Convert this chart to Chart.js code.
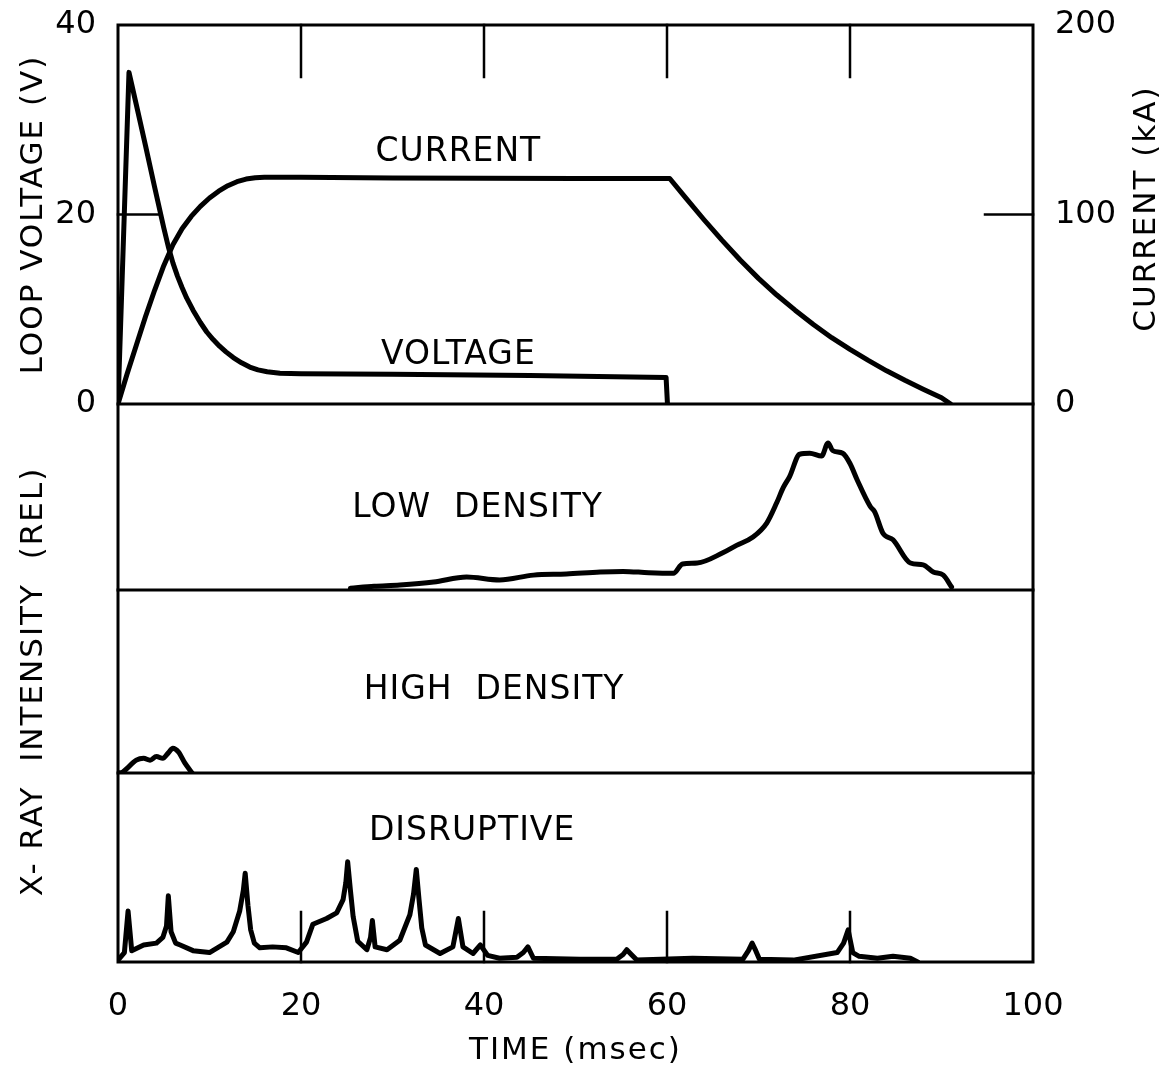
<!DOCTYPE html>
<html>
<head>
<meta charset="utf-8">
<script src="https://cdn.jsdelivr.net/npm/chart.js@4.4.1/dist/chart.umd.min.js"></script>
<style>
  html, body { margin: 0; padding: 0; background: #fff; }
</style>
</head>
<body>
<canvas id="shot" width="1172" height="1070"></canvas>
<script>
'use strict'

// time axis (msec)
const timeTicks = [0, 20, 40, 60, 80, 100];

// loop voltage (V)
const voltageTime = [0, 1.2, 2, 3, 4, 5, 5.5, 6, 6.5, 7, 7.5, 8.2, 9, 9.7, 10.4, 11.1, 11.8, 12.6, 13.5, 14.4,
    15.3, 16.3, 17.7, 20, 30, 45, 59.9, 60.05];
const voltageValues = [0, 35, 31.6, 27.3, 22.9, 18.6, 16.6, 14.9, 13.5, 12.3, 11.2, 9.9, 8.6, 7.6, 6.8, 6.1, 5.5, 4.9, 4.35, 3.9,
    3.6, 3.4, 3.25, 3.2, 3.15, 3.0, 2.8, 0];

// plasma current (kA)
const currentTime = [0, 1, 2, 3, 4, 5, 6, 7, 8, 9, 10, 11, 12, 13, 14, 15, 16, 20, 30, 40, 50, 60.3,
    62, 64, 66, 68, 70, 72, 74, 76, 78, 80, 82, 84, 86, 88, 90, 91];
const currentValues = [0, 16, 31, 46, 60, 73, 84, 92.5, 99, 104.3, 108.7, 112.3, 115.2, 117.3, 118.7, 119.4, 119.7, 119.6, 119.3, 119.1, 119, 119,
    109, 97.5, 86.5, 76, 66.3, 57.5, 49.5, 42, 35, 28.8, 23, 17.5, 12.5, 7.8, 3.3, 0];

// x-ray intensity, low density (rel)
const lowTime = [25.4, 28, 30.8, 34.5, 38.1, 41.7, 45.4, 49, 52.7, 55.2, 58, 60.7, 61.7, 63.3, 66.1, 67.6, 69.4, 70.9, 72,
    72.7, 73.4, 74.5, 75.6, 76.9, 77.6, 78.1, 79.2, 80, 80.8, 82.2, 82.7, 83.6, 84.7, 86.6, 88, 89.1, 90.2, 91.1];
const lowValues = [0.1, 0.2, 0.27, 0.43, 0.7, 0.54, 0.8, 0.86, 0.97, 1.0, 0.93, 0.9, 1.4, 1.45, 2.0, 2.4, 2.85, 3.6, 4.7,
    5.5, 6.1, 7.3, 7.35, 7.2, 7.9, 7.5, 7.35, 6.8, 5.9, 4.5, 4.2, 3.05, 2.7, 1.45, 1.35, 0.97, 0.8, 0.16];

// x-ray intensity, high density (rel)
const highTime = [0, 0.5, 2.0, 2.8, 3.5, 4.2, 4.9, 5.5, 6.0, 6.6, 7.3, 8.1];
const highValues = [0, 0.05, 0.7, 0.8, 0.7, 0.9, 0.8, 1.1, 1.35, 1.15, 0.55, 0];

// x-ray intensity, disruptive (rel)
const disTime = [
    0, 0.7, 1.1, 1.5, 2.8, 4.2, 4.9, 5.3, 5.5, 5.8,
    6.3, 6.8, 8.2, 10, 11.9, 12.6, 13.3, 13.7, 13.9, 14.2,
    14.5, 14.9, 15.5, 16.9, 18.4, 19.7, 20.6, 21.3, 22.8, 23.9,
    24.6, 24.9, 25.1, 25.4, 25.7, 26.2, 27.2, 27.6, 27.8, 28.1,
    29.4, 30.8, 31.9, 32.3, 32.6, 32.9, 33.2, 33.6, 35.2, 36.6,
    37.2, 37.7, 38.8, 39.6, 40.4, 41.7, 43.6, 44.3, 44.8, 45.4,
    50.5, 54.5, 55.2, 55.6, 56.1, 56.7, 62.8, 68.3, 68.9, 69.3,
    69.7, 70.1, 73.8, 78.6, 79.3, 79.8, 80.3, 81, 83, 84.7,
    86.6, 87.4];
const disValues = [
    0.1, 0.5, 2.7, 0.6, 0.9, 1.0, 1.3, 1.9, 3.5, 1.6,
    1.0, 0.9, 0.6, 0.5, 1.05, 1.6, 2.7, 3.8, 4.7, 3.0,
    1.7, 1.0, 0.75, 0.8, 0.75, 0.5, 1.05, 2.0, 2.3, 2.6,
    3.3, 4.2, 5.3, 3.8, 2.4, 1.1, 0.65, 1.3, 2.2, 0.8,
    0.65, 1.15, 2.5, 3.6, 4.9, 3.3, 1.8, 0.9, 0.45, 0.8,
    2.3, 0.8, 0.45, 0.9, 0.35, 0.2, 0.25, 0.5, 0.8, 0.2,
    0.15, 0.15, 0.4, 0.65, 0.4, 0.1, 0.2, 0.15, 0.6, 1.0,
    0.6, 0.15, 0.1, 0.5, 1.0, 1.7, 0.5, 0.3, 0.2, 0.3,
    0.2, 0];

// curve names written inside the panels (time, value, axis)
const panelLabels = [
    { text: 'CURRENT', t: 37.2, v: 26.6, axis: 'yV' },
    { text: 'VOLTAGE', t: 37.2, v: 5.1, axis: 'yV' },
    { text: 'LOW  DENSITY', t: 39.3, v: 4.4, axis: 'yLow' },
    { text: 'HIGH  DENSITY', t: 41.1, v: 4.5, axis: 'yHigh' },
    { text: 'DISRUPTIVE', t: 38.7, v: 6.9, axis: 'yDis' }
];

const pairs = (xs, ys) => xs.map((x, i) => ({ x: x, y: ys[i] }));

const FONT = '"DejaVu Sans", "Liberation Sans", sans-serif';
const tickFont = { family: FONT, size: 32 };
const sideTickFont = { family: FONT, size: 32, lineHeight: 0.2 }; // keeps the top edge at the 40 V line
const titleFont = { family: FONT, size: 31 };

Chart.defaults.font.family = FONT;
Chart.defaults.color = '#000';

const lineStyle = {
    borderColor: '#000',
    borderWidth: 5,
    pointRadius: 0,
    fill: false,
    tension: 0,
    borderJoinStyle: 'round',
    borderCapStyle: 'round'
};

// frame, panel dividers, inner tick marks and curve names
const framePlugin = {
    id: 'frame',
    beforeDraw(chart) {
        // axis titles are spaced out, tick numbers (drawn later, z = 1) are not
        chart.ctx.letterSpacing = '2px';
    },
    afterDatasetsDraw(chart) {
        const { ctx, chartArea: a, scales } = chart;
        const x = scales.x;
        ctx.save();
        ctx.strokeStyle = '#000';
        ctx.lineCap = 'square';

        ctx.lineWidth = 3;
        ctx.strokeRect(a.left, a.top, a.right - a.left, a.bottom - a.top);
        [scales.yLow.top, scales.yHigh.top, scales.yDis.top].forEach(y => {
            ctx.beginPath();
            ctx.moveTo(a.left, y);
            ctx.lineTo(a.right, y);
            ctx.stroke();
        });

        // inner ticks
        ctx.lineWidth = 2.5;
        [20, 40, 60, 80].forEach(t => {
            const px = x.getPixelForValue(t);
            ctx.beginPath();
            ctx.moveTo(px, a.top);
            ctx.lineTo(px, a.top + 52);
            ctx.moveTo(px, a.bottom);
            ctx.lineTo(px, a.bottom - 50);
            ctx.stroke();
        });
        const yv = scales.yV.getPixelForValue(20);
        ctx.beginPath();
        ctx.moveTo(a.left, yv);
        ctx.lineTo(a.left + 42, yv);
        ctx.stroke();
        const yi = scales.yI.getPixelForValue(100);
        ctx.beginPath();
        ctx.moveTo(a.right, yi);
        ctx.lineTo(a.right - 48, yi);
        ctx.stroke();

        // curve names
        ctx.fillStyle = '#000';
        ctx.font = '33px ' + FONT;
        ctx.letterSpacing = '1px';
        ctx.textAlign = 'center';
        ctx.textBaseline = 'middle';
        panelLabels.forEach(l => {
            ctx.fillText(l.text, x.getPixelForValue(l.t), scales[l.axis].getPixelForValue(l.v));
        });

        // right axis title reads upward like the left ones
        const yc = (scales.yI.top + scales.yI.bottom) / 2;
        ctx.font = '31px ' + FONT;
        ctx.letterSpacing = '2px';
        ctx.translate(1147, yc - 6);
        ctx.rotate(-Math.PI / 2);
        ctx.fillText('CURRENT (kA)', 0, 0);
        ctx.restore();
        ctx.letterSpacing = '0px';
    }
};

const quietAxis = (weight, stackWeight, extra) => Object.assign({
    type: 'linear',
    position: 'left',
    stack: 'left',
    weight: weight,
    stackWeight: stackWeight,
    min: 0,
    max: 10,
    grid: { display: false },
    border: { display: false },
    ticks: { display: false }
}, extra || {});

new Chart(document.getElementById('shot'), {
    type: 'line',
    data: {
        datasets: [
            Object.assign({ label: 'Voltage', data: pairs(voltageTime, voltageValues), yAxisID: 'yV' }, lineStyle),
            Object.assign({ label: 'Current', data: pairs(currentTime, currentValues), yAxisID: 'yI' }, lineStyle),
            Object.assign({}, lineStyle, { label: 'Low density', data: pairs(lowTime, lowValues), yAxisID: 'yLow', cubicInterpolationMode: 'monotone' }),
            Object.assign({}, lineStyle, { label: 'High density', data: pairs(highTime, highValues), yAxisID: 'yHigh', cubicInterpolationMode: 'monotone' }),
            Object.assign({ label: 'Disruptive', data: pairs(disTime, disValues), yAxisID: 'yDis' }, lineStyle)
        ]
    },
    options: {
        responsive: false,
        animation: false,
        devicePixelRatio: 1,
        events: [],
        layout: { padding: { top: 25, left: 0, right: 0, bottom: 0 } },
        plugins: {
            legend: { display: false },
            tooltip: { enabled: false }
        },
        scales: {
            x: {
                type: 'linear',
                min: timeTicks[0],
                max: timeTicks[timeTicks.length - 1],
                afterBuildTicks: s => { s.ticks = timeTicks.map(v => ({ value: v })); },
                grid: { display: false },
                border: { display: false },
                ticks: { font: tickFont, padding: 17, maxRotation: 0, z: 1 },
                title: { display: true, text: 'TIME (msec)', font: titleFont, padding: { top: 0, bottom: 0 } },
                afterFit: s => { s.height = 108; }
            },
            yV: {
                type: 'linear',
                position: 'left',
                stack: 'left',
                weight: 4,
                stackWeight: 379,
                min: 0,
                max: 40,
                grid: { display: false },
                border: { display: false },
                ticks: { stepSize: 20, font: sideTickFont, padding: 14, z: 1 },
                title: { display: true, text: 'LOOP VOLTAGE (V)', font: titleFont, padding: { top: 15, bottom: 0 } },
                afterFit: s => { s.width = 118; }
            },
            yLow: quietAxis(3, 186),
            yHigh: quietAxis(2, 183, {
                title: { display: true, text: 'X- RAY  INTENSITY  (REL)', font: titleFont, padding: { top: 15, bottom: 0 } }
            }),
            yDis: quietAxis(1, 189),
            yI: {
                type: 'linear',
                position: 'right',
                stack: 'right',
                weight: 0,
                stackWeight: 379,
                min: 0,
                max: 200,
                grid: { display: false },
                border: { display: false },
                ticks: { stepSize: 100, font: sideTickFont, padding: 14, z: 1 },
                afterFit: s => { s.width = 139; }
            },
            yPad: quietAxis(1, 558, { position: 'right', stack: 'right' })
        }
    },
    plugins: [framePlugin]
});
</script>
</body>
</html>
